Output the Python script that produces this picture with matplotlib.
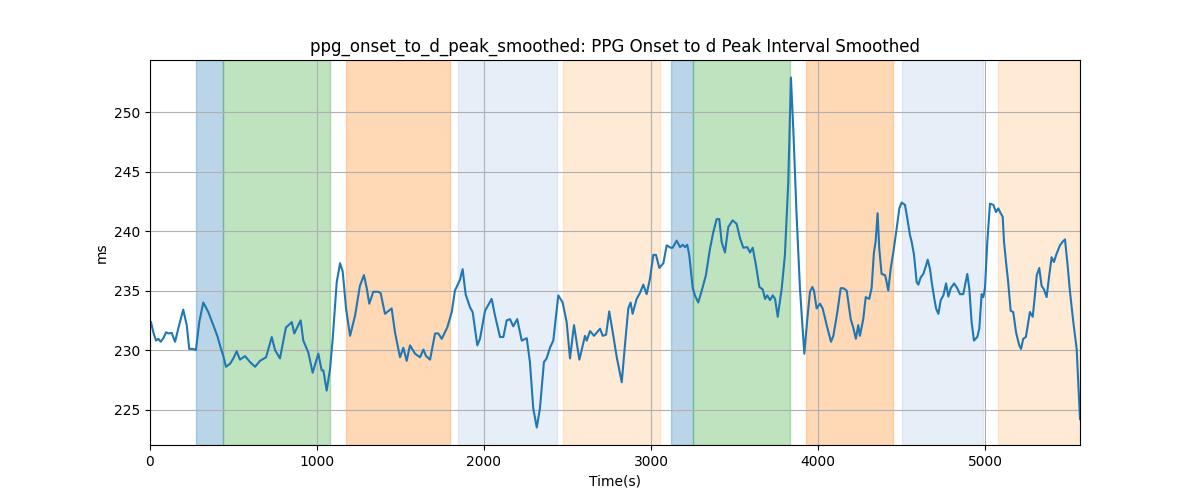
import matplotlib
matplotlib.use("Agg")
import matplotlib.pyplot as plt

# smoothed onset-to-d-peak interval
time = [6, 20, 36, 50, 64, 80, 96, 110, 130, 150, 169, 199, 220, 235, 259, 275, 295, 319, 349, 379,
        403, 419, 439, 455, 479, 499, 519, 539, 569, 599, 629, 659, 695, 729, 749, 778, 814, 849, 864, 902,
        918, 948, 974, 1008, 1028, 1038, 1058, 1078, 1094, 1118, 1138, 1154, 1174, 1198, 1228, 1257, 1281, 1298, 1313, 1337,
        1367, 1381, 1407, 1447, 1467, 1497, 1517, 1537, 1557, 1587, 1617, 1637, 1653, 1677, 1707, 1726, 1747, 1780, 1807, 1826,
        1856, 1872, 1890, 1916, 1932, 1960, 1976, 2006, 2046, 2066, 2096, 2116, 2136, 2156, 2175, 2199, 2226, 2256, 2275, 2295,
        2316, 2335, 2359, 2375, 2395, 2415, 2445, 2471, 2495, 2515, 2539, 2571, 2605, 2615, 2635, 2659, 2695, 2711, 2731, 2750,
        2771, 2795, 2825, 2844, 2864, 2878, 2890, 2914, 2934, 2954, 2974, 2994, 3014, 3030, 3050, 3074, 3094, 3118, 3130, 3154,
        3174, 3190, 3204, 3217, 3229, 3250, 3263, 3283, 3304, 3329, 3353, 3373, 3393, 3409, 3423, 3443, 3463, 3489, 3513, 3533,
        3553, 3577, 3593, 3609, 3629, 3649, 3669, 3683, 3696, 3713, 3729, 3743, 3759, 3783, 3802, 3822, 3838, 3852, 3872, 3892,
        3918, 3936, 3952, 3966, 3976, 3992, 4012, 4028, 4052, 4078, 4092, 4116, 4136, 4152, 4172, 4196, 4211, 4227, 4241, 4251,
        4271, 4286, 4307, 4321, 4335, 4345, 4357, 4367, 4381, 4401, 4407, 4421, 4435, 4451, 4471, 4487, 4501, 4521, 4535, 4551,
        4561, 4575, 4591, 4601, 4615, 4631, 4647, 4657, 4671, 4681, 4695, 4707, 4721, 4735, 4751, 4767, 4781, 4795, 4815, 4834,
        4850, 4870, 4880, 4894, 4906, 4920, 4934, 4954, 4966, 4980, 4990, 5000, 5014, 5030, 5050, 5066, 5080, 5090, 5106, 5114,
        5126, 5139, 5154, 5169, 5186, 5205, 5216, 5229, 5245, 5259, 5269, 5286, 5299, 5310, 5325, 5339, 5353, 5369, 5385, 5399,
        5413, 5429, 5449, 5465, 5479, 5493, 5509, 5529, 5549, 5569]
interval = [232.35, 231.5, 230.8, 230.95, 230.7, 231.0, 231.5, 231.4, 231.45, 230.7, 231.8, 233.4, 232.1, 230.1, 230.1, 230.0, 232.35, 234.0, 233.2, 232.1,
            231.2, 230.4, 229.5, 228.6, 228.85, 229.3, 229.9, 229.2, 229.5, 229.0, 228.6, 229.1, 229.4, 231.1, 230.0, 229.3, 231.9, 232.35, 231.4, 232.5,
            230.8, 229.8, 228.1, 229.7, 228.3, 228.3, 226.6, 228.4, 230.95, 235.7, 237.3, 236.6, 233.5, 231.2, 232.9, 235.4, 236.3, 235.2, 233.9, 234.9,
            234.9, 234.8, 233.05, 233.5, 231.5, 229.4, 230.2, 229.1, 230.4, 229.7, 229.4, 230.05, 229.5, 229.2, 231.4, 231.4, 230.95, 231.9, 233.2, 235.0,
            235.9, 236.8, 234.7, 233.6, 233.2, 230.4, 230.95, 233.3, 234.3, 232.9, 231.1, 231.1, 232.5, 232.6, 232.0, 232.6, 230.8, 231.0, 229.0, 225.1,
            223.5, 225.1, 229.0, 229.3, 230.2, 230.8, 234.6, 234.0, 232.35, 229.3, 232.1, 229.2, 231.2, 230.8, 231.6, 231.2, 231.8, 231.2, 231.3, 233.25,
            231.5, 229.4, 227.3, 230.4, 233.5, 234.0, 233.05, 234.3, 234.8, 235.5, 234.7, 236.0, 238.0, 238.0, 236.9, 237.3, 238.8, 238.6, 238.6, 239.2,
            238.65, 238.85, 238.65, 238.85, 238.0, 235.2, 234.6, 234.0, 235.0, 236.3, 238.5, 239.9, 241.0, 241.0, 239.1, 238.2, 240.35, 240.9, 240.6, 239.4,
            238.6, 238.65, 238.2, 238.6, 237.1, 235.3, 235.1, 234.3, 234.6, 234.2, 234.6, 234.3, 232.8, 235.2, 238.0, 244.1, 252.9, 248.6, 241.3, 235.2,
            229.7, 232.6, 234.9, 235.3, 235.0, 233.5, 233.9, 233.5, 232.1, 230.7, 231.2, 233.2, 235.2, 235.2, 235.0, 232.6, 231.9, 230.95, 232.1, 231.2,
            232.6, 234.45, 234.3, 235.2, 238.2, 239.1, 241.5, 238.5, 236.4, 236.3, 236.0, 235.0, 236.8, 238.2, 240.2, 241.9, 242.4, 242.2, 241.05, 239.65,
            239.1, 238.0, 235.7, 235.5, 236.1, 236.4, 237.1, 237.6, 236.8, 235.7, 234.45, 233.5, 233.05, 234.2, 234.6, 235.6, 234.5, 235.2, 235.6, 235.2,
            234.7, 234.7, 235.4, 236.4, 235.2, 232.35, 230.8, 231.1, 231.8, 234.7, 234.45, 235.2, 239.1, 242.3, 242.2, 241.6, 241.9, 241.6, 241.2, 239.1,
            237.4, 235.7, 233.3, 233.2, 231.5, 230.4, 230.1, 230.95, 231.1, 232.35, 233.2, 232.8, 234.6, 236.3, 236.9, 235.4, 235.1, 234.45, 236.3, 237.8,
            237.4, 238.1, 238.8, 239.1, 239.3, 237.4, 234.9, 232.35, 230.1, 224.2]

# shaded phases: start, end, colour
span_start = [275, 437, 1174, 1844, 2473, 3120, 3251, 3928, 4503, 5078]
span_end = [437, 1078, 1796, 2437, 3054, 3251, 3832, 4449, 4990, 5569]
span_color = ['#1f77b4', '#2ca02c', '#ff7f0e', '#aec7e8', '#ffbb78',
              '#1f77b4', '#2ca02c', '#ff7f0e', '#aec7e8', '#ffbb78']

fig, ax = plt.subplots(figsize=(12, 5), dpi=100)
for s, e, c in zip(span_start, span_end, span_color):
    ax.axvspan(s, e, color=c, alpha=0.3)
ax.plot(time, interval, color='#1f77b4', linewidth=1.5)
ax.set_xlim(0, time[-1])
ax.grid(True)
ax.set_title("ppg_onset_to_d_peak_smoothed: PPG Onset to d Peak Interval Smoothed")
ax.set_xlabel("Time(s)")
ax.set_ylabel("ms")
fig.savefig("out.png")
